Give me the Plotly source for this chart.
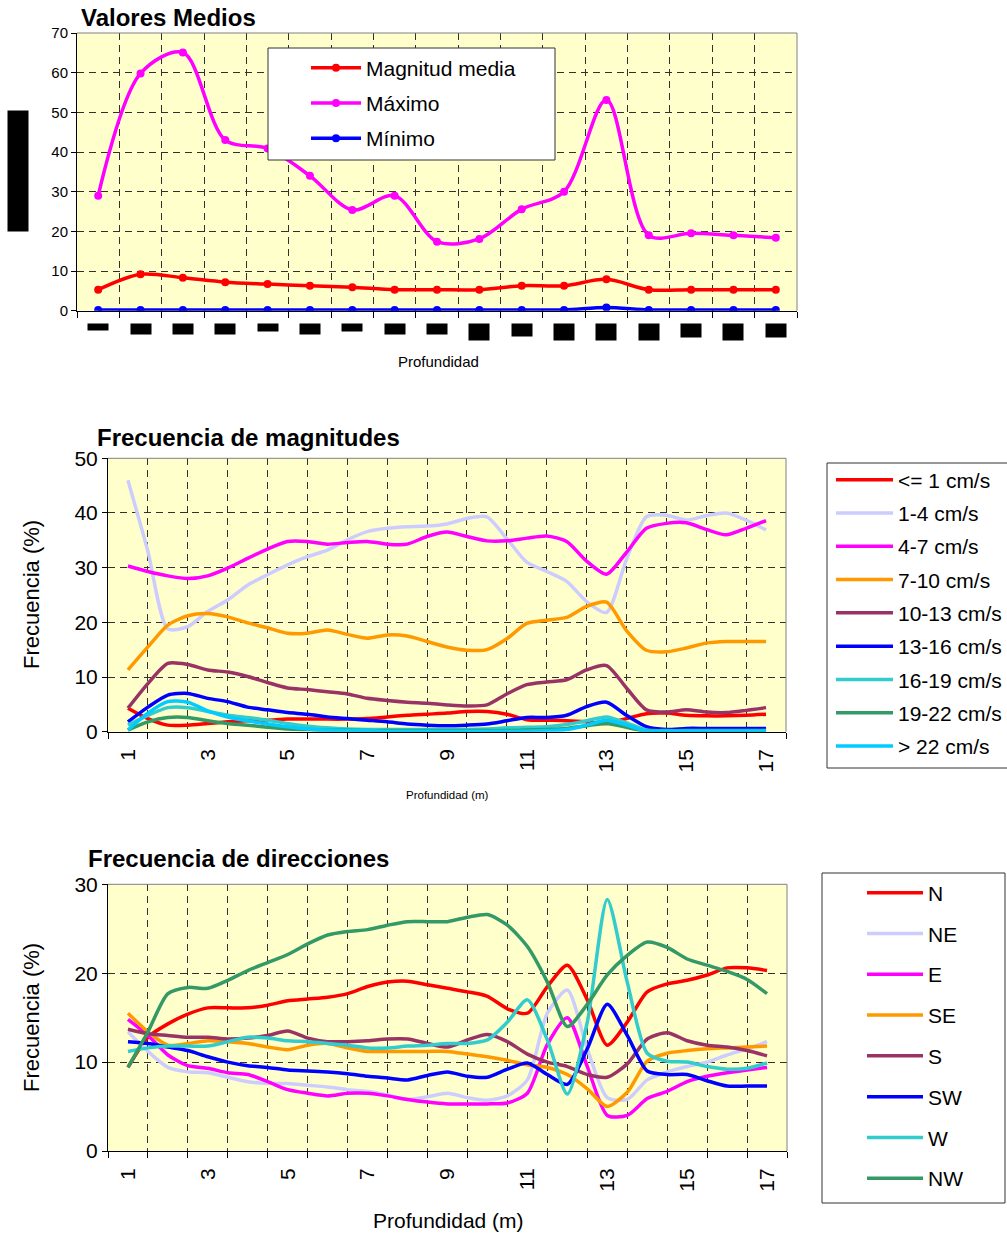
import plotly.graph_objects as go

W_FIG, H_FIG = 1007, 1235
FONT = "Arial, 'Liberation Sans', sans-serif"

# ---------------- data ----------------
# Top chart: "Valores Medios" (one value per depth category)
depth_cat = [1, 2, 3, 4, 5, 6, 7, 8, 9, 10, 11, 12, 13, 14, 15, 16, 17]
magnitud_media = [5.3, 9.2, 8.3, 7.2, 6.7, 6.3, 5.9, 5.3, 5.3, 5.3, 6.3, 6.3, 7.9, 5.3, 5.3, 5.3, 5.3]
maximo = [29.0, 59.8, 65.1, 43.0, 40.9, 34.0, 25.4, 29.0, 17.4, 18.1, 25.6, 30.0, 53.1, 19.0, 19.5, 19.0, 18.4]
minimo = [0.2, 0.2, 0.2, 0.2, 0.2, 0.2, 0.2, 0.2, 0.2, 0.2, 0.2, 0.2, 0.8, 0.2, 0.2, 0.2, 0.2]
top_names = ["Magnitud media", "Máximo", "Mínimo"]

# Middle / bottom charts: depth (m)
depth_m = [1, 1.5, 2, 2.5, 3, 3.5, 4, 4.5, 5, 5.5, 6, 6.5, 7, 7.5, 8, 8.5, 9,
           9.5, 10, 10.5, 11, 11.5, 12, 12.5, 13, 13.5, 14, 14.5, 15, 15.5, 16, 16.5, 17]
depth_ticks = [1, 3, 5, 7, 9, 11, 13, 15, 17]

mag_labels = ["&lt;= 1 cm/s", "1-4 cm/s", "4-7 cm/s", "7-10 cm/s", "10-13 cm/s",
              "13-16 cm/s", "16-19 cm/s", "19-22 cm/s", "&gt; 22 cm/s"]
mag_le1 = [4.3, 2.4, 1.2, 1.2, 1.5, 1.8, 2.0, 2.1, 2.3, 2.3, 2.3, 2.3, 2.4, 2.7, 3.0, 3.2, 3.4,
           3.7, 3.7, 3.2, 2.2, 2.1, 2.0, 1.8, 1.5, 2.4, 3.3, 3.4, 3.0, 2.9, 2.9, 3.0, 3.2]
mag_1_4 = [46.0, 33.0, 18.8, 19.2, 22.0, 24.1, 26.8, 28.7, 30.5, 32.0, 33.2, 35.1, 36.6, 37.2, 37.5, 37.6, 38.0,
           39.0, 39.3, 35.3, 31.0, 29.3, 27.5, 23.8, 21.8, 31.5, 39.3, 39.6, 38.7, 39.5, 40.0, 38.7, 36.9]
mag_4_7 = [30.3, 29.3, 28.5, 28.0, 28.5, 29.9, 31.7, 33.4, 34.8, 34.8, 34.3, 34.6, 34.8, 34.3, 34.3, 35.7, 36.5,
           35.7, 34.9, 34.9, 35.4, 35.8, 34.8, 31.2, 28.8, 32.8, 37.2, 38.1, 38.2, 37.0, 36.0, 37.2, 38.6]
mag_7_10 = [11.3, 15.5, 19.5, 21.2, 21.6, 21.0, 19.9, 19.0, 18.0, 18.0, 18.6, 17.8, 17.1, 17.7, 17.5, 16.5, 15.5,
            14.9, 15.0, 17.0, 19.8, 20.4, 20.9, 22.9, 23.7, 18.5, 14.9, 14.6, 15.3, 16.2, 16.5, 16.5, 16.5]
mag_10_13 = [4.3, 8.8, 12.5, 12.3, 11.3, 10.9, 10.1, 9.0, 8.0, 7.7, 7.3, 6.9, 6.1, 5.7, 5.4, 5.2, 4.9,
             4.7, 4.9, 6.9, 8.6, 9.1, 9.5, 11.3, 12.1, 8.0, 4.0, 3.6, 4.0, 3.6, 3.5, 3.9, 4.4]
mag_13_16 = [1.8, 4.5, 6.7, 7.0, 6.1, 5.5, 4.5, 4.0, 3.5, 3.2, 2.7, 2.4, 2.1, 1.8, 1.4, 1.2, 1.1,
             1.2, 1.4, 2.0, 2.6, 2.6, 3.0, 4.6, 5.4, 3.0, 0.9, 0.4, 0.6, 0.6, 0.6, 0.6, 0.6]
mag_16_19 = [1.2, 3.0, 4.4, 4.4, 3.7, 3.0, 2.6, 2.1, 1.5, 1.0, 0.7, 0.5, 0.4, 0.4, 0.4, 0.4, 0.4,
             0.4, 0.5, 0.7, 0.8, 0.9, 1.3, 2.0, 2.7, 1.6, 0.3, 0.2, 0.2, 0.2, 0.2, 0.2, 0.2]
mag_19_22 = [0.3, 1.8, 2.6, 2.6, 2.0, 1.5, 1.2, 0.8, 0.5, 0.4, 0.3, 0.3, 0.2, 0.2, 0.2, 0.2, 0.2,
             0.2, 0.2, 0.2, 0.3, 0.4, 0.6, 1.1, 1.5, 0.8, 0.1, 0.1, 0.1, 0.1, 0.1, 0.1, 0.1]
mag_gt22 = [0.3, 3.4, 5.5, 5.4, 3.8, 2.7, 2.0, 1.4, 0.9, 0.5, 0.3, 0.2, 0.2, 0.1, 0.1, 0.1, 0.1,
            0.1, 0.1, 0.1, 0.1, 0.2, 0.4, 1.2, 2.1, 1.2, 0.1, 0.1, 0.1, 0.1, 0.1, 0.1, 0.1]

dir_labels = ["N", "NE", "E", "SE", "S", "SW", "W", "NW"]
dir_N = [9.4, 12.8, 14.3, 15.4, 16.1, 16.1, 16.1, 16.4, 16.9, 17.1, 17.3, 17.7, 18.5, 19.0, 19.1, 18.7, 18.3,
         17.9, 17.4, 16.0, 15.5, 18.5, 20.9, 17.0, 11.9, 14.5, 17.9, 18.8, 19.2, 19.8, 20.6, 20.6, 20.3]
dir_NE = [13.4, 11.2, 9.4, 8.9, 8.8, 8.3, 7.8, 7.6, 7.6, 7.4, 7.2, 6.9, 6.7, 6.3, 5.8, 6.1, 6.5,
          6.0, 5.7, 6.2, 8.0, 15.5, 18.1, 11.5, 6.0, 5.8, 8.0, 8.9, 9.5, 10.0, 10.8, 11.5, 12.3]
dir_E = [14.8, 13.0, 10.8, 9.6, 9.3, 8.8, 8.6, 7.8, 6.9, 6.5, 6.2, 6.5, 6.5, 6.2, 5.8, 5.5, 5.3,
         5.3, 5.3, 5.4, 6.5, 12.0, 15.0, 9.5, 4.0, 4.0, 5.9, 6.7, 7.8, 8.4, 8.8, 9.1, 9.4]
dir_SE = [15.5, 13.4, 11.9, 12.1, 12.4, 12.3, 12.1, 11.7, 11.4, 11.9, 12.1, 11.6, 11.2, 11.2, 11.2, 11.2, 11.2,
          10.9, 10.6, 10.2, 9.7, 9.4, 8.6, 7.0, 5.0, 6.6, 10.1, 11.0, 11.3, 11.5, 11.6, 11.7, 11.8]
dir_S = [13.7, 13.2, 13.0, 12.8, 12.8, 12.6, 12.7, 13.0, 13.5, 12.7, 12.3, 12.3, 12.4, 12.6, 12.6, 12.1, 11.7,
         12.5, 13.1, 12.3, 10.9, 10.0, 9.5, 8.6, 8.3, 9.8, 12.6, 13.3, 12.4, 11.9, 11.7, 11.3, 10.7]
dir_SW = [12.3, 12.1, 11.7, 11.3, 10.6, 10.0, 9.6, 9.4, 9.1, 9.0, 8.9, 8.7, 8.4, 8.2, 8.0, 8.5, 8.9,
          8.4, 8.3, 9.2, 9.9, 8.6, 7.5, 11.5, 16.5, 13.0, 9.0, 8.6, 8.6, 7.9, 7.3, 7.3, 7.3]
dir_W = [11.2, 11.6, 11.8, 11.8, 11.8, 12.3, 12.8, 12.7, 12.4, 12.3, 12.1, 11.9, 11.6, 11.6, 11.8, 11.9, 12.1,
         12.1, 12.5, 14.5, 17.0, 12.5, 6.4, 14.5, 28.3, 19.0, 11.0, 10.1, 10.0, 9.5, 9.2, 9.3, 9.9]
dir_NW = [9.4, 13.4, 17.7, 18.4, 18.3, 19.2, 20.3, 21.2, 22.1, 23.3, 24.3, 24.7, 24.9, 25.4, 25.8, 25.8, 25.8,
          26.3, 26.6, 25.4, 23.0, 19.0, 14.0, 16.5, 19.8, 22.0, 23.5, 22.9, 21.6, 20.9, 20.2, 19.3, 17.7]

# ---------------- styles ----------------
top_colors = ["#FF0000", "#FF00FF", "#0000FF"]
mag_colors = ["#FF0000", "#CCCCFF", "#FF00FF", "#FF9900", "#993366",
              "#0000FF", "#33CCCC", "#339966", "#00CCFF"]
dir_colors = ["#FF0000", "#CCCCFF", "#FF00FF", "#FF9900", "#993366",
              "#0000FF", "#33CCCC", "#339966"]
# heights (px) of the redacted category labels in the top chart
redact_h = [6, 10, 10, 10, 7, 10, 7, 10, 10, 16, 12, 16, 16, 16, 13, 16, 13]


def px(x):
    return x / W_FIG


def py(y):
    return 1 - y / H_FIG


fig = go.Figure()

# top chart traces
for name, vals, col in zip(top_names, [magnitud_media, maximo, minimo], top_colors):
    fig.add_trace(go.Scatter(
        x=depth_cat, y=vals, name=name, mode="lines+markers",
        line=dict(color=col, width=3.5, shape="spline", smoothing=0.9),
        marker=dict(color=col, size=8), xaxis="x", yaxis="y",
        legend="legend", legendgroup="t" + name))

mag_series = [mag_le1, mag_1_4, mag_4_7, mag_7_10, mag_10_13, mag_13_16, mag_16_19, mag_19_22, mag_gt22]
for name, vals, col in zip(mag_labels, mag_series, mag_colors):
    fig.add_trace(go.Scatter(
        x=depth_m, y=vals, name=name, mode="lines",
        line=dict(color=col, width=3.5, shape="spline", smoothing=0.7),
        xaxis="x2", yaxis="y2", legend="legend2", legendgroup="m" + name))

dir_series = [dir_N, dir_NE, dir_E, dir_SE, dir_S, dir_SW, dir_W, dir_NW]
for name, vals, col in zip(dir_labels, dir_series, dir_colors):
    fig.add_trace(go.Scatter(
        x=depth_m, y=vals, name=name, mode="lines",
        line=dict(color=col, width=3.5, shape="spline", smoothing=0.7),
        xaxis="x3", yaxis="y3", legend="legend3", legendgroup="d" + name))

bounds = [i + 0.5 for i in range(0, 18)]
GRID = "#303030"
DASH = "7px,5px"


def xaxis_common(domain, anchor):
    return dict(domain=domain, anchor=anchor, range=[0.5, 17.5],
                showline=True, linecolor="black", linewidth=1,
                showgrid=False, zeroline=False,
                minor=dict(tickvals=bounds, ticks="outside", ticklen=6, tickcolor="black",
                           tickwidth=1, showgrid=True, gridcolor=GRID, griddash=DASH, gridwidth=1))


def yaxis_common(domain, anchor, rng, dtick, fsize):
    return dict(domain=domain, anchor=anchor, range=rng, dtick=dtick,
                showline=True, linecolor="black", linewidth=1,
                ticks="outside", ticklen=5, tickcolor="black",
                showgrid=True, gridcolor=GRID, griddash=DASH, gridwidth=1,
                zeroline=False, tickfont=dict(family=FONT, size=fsize, color="black"))


x1 = xaxis_common([px(77), px(797)], "y")
x1.update(showticklabels=False, ticks="")
x2 = xaxis_common([px(108), px(786)], "y2")
x2.update(tickmode="array", tickvals=depth_ticks, ticktext=[str(t) for t in depth_ticks],
          ticks="outside", ticklen=8, tickcolor="rgba(0,0,0,0)", tickangle=-90,
          tickfont=dict(family=FONT, size=21, color="black"))
x3 = xaxis_common([px(108), px(787)], "y3")
x3.update(tickmode="array", tickvals=depth_ticks, ticktext=[str(t) for t in depth_ticks],
          ticks="outside", ticklen=8, tickcolor="rgba(0,0,0,0)", tickangle=-90,
          tickfont=dict(family=FONT, size=21, color="black"))

LEG_FONT = dict(family=FONT, size=21, color="black")
fig.update_layout(
    width=W_FIG, height=H_FIG,
    margin=dict(l=0, r=0, t=0, b=0, autoexpand=False),
    paper_bgcolor="white", plot_bgcolor="#FFFFCC",
    font=dict(family=FONT, color="black"),
    xaxis=x1, xaxis2=x2, xaxis3=x3,
    yaxis=yaxis_common([py(310.7), py(33)], "x", [0, 70], 10, 15),
    yaxis2=yaxis_common([py(731.7), py(458.3)], "x2", [0, 50], 10, 21),
    yaxis3=yaxis_common([py(1151), py(884.3)], "x3", [0, 30], 10, 21),
    legend=dict(x=px(306), y=py(47.5), xanchor="left", yanchor="top",
                bgcolor="rgba(0,0,0,0)", borderwidth=0, itemwidth=50, tracegroupgap=5,
                font=LEG_FONT),
    legend2=dict(x=px(831), y=py(459.5), xanchor="left", yanchor="top",
                 bgcolor="rgba(0,0,0,0)", borderwidth=0, itemwidth=57, tracegroupgap=3,
                 font=LEG_FONT),
    legend3=dict(x=px(862), y=py(872.5), xanchor="left", yanchor="top",
                 bgcolor="rgba(0,0,0,0)", borderwidth=0, itemwidth=56, tracegroupgap=10.5,
                 font=LEG_FONT),
)

shapes = []
# gray top / right borders of each plot area
for xa, ya in [("x", "y"), ("x2", "y2"), ("x3", "y3")]:
    shapes.append(dict(type="line", xref=xa + " domain", yref=ya + " domain", x0=0, x1=1, y0=1, y1=1,
                       line=dict(color="#808080", width=1), layer="above"))
    shapes.append(dict(type="line", xref=xa + " domain", yref=ya + " domain", x0=1, x1=1, y0=0, y1=1,
                       line=dict(color="#808080", width=1), layer="above"))
# legend boxes
for (lx0, ly0, lx1, ly1) in [(268, 48, 555, 160), (827, 463, 1012, 768), (822, 873, 1005, 1203)]:
    shapes.append(dict(type="rect", xref="paper", yref="paper",
                       x0=px(lx0), x1=px(lx1), y0=py(ly1), y1=py(ly0),
                       fillcolor="white", line=dict(color="#333333", width=1), layer="above"))
fig.update_layout(shapes=shapes)

ann = []
# titles
ann.append(dict(text="<b>Valores Medios</b>", x=px(79), y=py(18), xref="paper", yref="paper",
                xanchor="left", yanchor="middle", showarrow=False, font=dict(family=FONT, size=24)))
ann.append(dict(text="<b>Frecuencia de magnitudes</b>", x=px(95), y=py(437), xref="paper", yref="paper",
                xanchor="left", yanchor="middle", showarrow=False, font=dict(family=FONT, size=24)))
ann.append(dict(text="<b>Frecuencia de direcciones</b>", x=px(86), y=py(858), xref="paper", yref="paper",
                xanchor="left", yanchor="middle", showarrow=False, font=dict(family=FONT, size=24)))
# axis titles
ann.append(dict(text="Profundidad", x=px(438), y=py(361), xref="paper", yref="paper",
                xanchor="center", yanchor="middle", showarrow=False, font=dict(family=FONT, size=15)))
ann.append(dict(text="Profundidad (m)", x=px(447), y=py(795), xref="paper", yref="paper",
                xanchor="center", yanchor="middle", showarrow=False, font=dict(family=FONT, size=11.5)))
ann.append(dict(text="Profundidad (m)", x=px(448), y=py(1220), xref="paper", yref="paper",
                xanchor="center", yanchor="middle", showarrow=False, font=dict(family=FONT, size=21)))
for yc in [595, 1018]:
    ann.append(dict(text="Frecuencia (%)", x=px(31), y=py(yc), xref="paper", yref="paper",
                    xanchor="center", yanchor="middle", textangle=-90, showarrow=False,
                    font=dict(family=FONT, size=22)))
# redacted y-axis title of top chart
ann.append(dict(text="█", x=px(7), y=py(110), xref="paper", yref="paper", xanchor="left", yanchor="top",
                width=20, height=120, bgcolor="black", borderpad=0, showarrow=False,
                font=dict(size=6, color="black")))
# redacted category labels of top chart
for d, h in zip(depth_cat, redact_h):
    ann.append(dict(text="█", x=d, y=py(323), xref="x", yref="paper", xanchor="center", yanchor="top",
                    width=20, height=h, bgcolor="black", borderpad=0, showarrow=False,
                    font=dict(size=4, color="black")))
fig.update_layout(annotations=ann)

fig.write_html("out.html")
